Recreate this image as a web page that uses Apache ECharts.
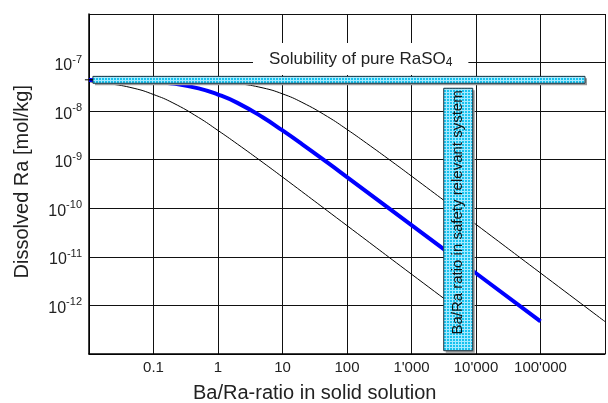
<!DOCTYPE html>
<html lang="en">
<head>
    <meta charset="UTF-8">
    <title>Dissolved Ra vs Ba/Ra ratio</title>
    <script src="https://cdn.jsdelivr.net/npm/echarts@6/dist/echarts.min.js"></script>
    <style>
        html, body { margin: 0; padding: 0; background: #fff; }
        #main { width: 608px; height: 403px; }
    </style>
</head>
<body>
    <div id="main"></div>

    <script>
        // curve data (Ba/Ra ratio -> dissolved Ra in mol/kg)
        const ratioLow = [0.01, 0.02, 0.05, 0.1, 0.2, 0.5, 1, 2, 5, 10, 100, 1000, 9300];
        const raLow = [4.03e-8, 3.69e-8, 2.95e-8, 2.2e-8, 1.48e-8, 7.4e-9, 4.0e-9, 2.1e-9, 8.7e-10, 4.4e-10, 4.4e-11, 4.4e-12, 4.8e-13];

        const ratioMid = [0.01, 0.1, 0.2, 0.5, 1, 2, 5, 10, 20, 50, 100, 1000, 10000, 100000];
        const raMid = [4.39e-8, 4.03e-8, 3.69e-8, 2.95e-8, 2.2e-8, 1.48e-8, 7.4e-9, 4.0e-9, 2.1e-9, 8.7e-10, 4.4e-10, 4.5e-11, 4.6e-12, 4.7e-13];

        const ratioHigh = [0.01, 1, 2, 5, 10, 20, 50, 100, 200, 500, 1000, 10000, 100000, 1000000];
        const raHigh = [4.43e-8, 4.05e-8, 3.72e-8, 3.0e-8, 2.27e-8, 1.52e-8, 7.7e-9, 4.2e-9, 2.2e-9, 9.1e-10, 4.6e-10, 4.65e-11, 4.65e-12, 4.65e-13];

        // bands: [ratio from, ratio to, Ra low, Ra high]
        const solubilityBand = [0.0115, 4.9e5, 3.75e-8, 5.2e-8];
        const safetyBand = [3160, 8900, 1.17e-13, 2.96e-8];
        const bandLabels = ['', 'Ba/Ra ratio in safety relevant system'];

        // small cyan hatch tile
        function makeHatch() {
            let c = document.createElement('canvas');
            c.width = 3; c.height = 3;
            let g = c.getContext('2d');
            g.fillStyle = '#17c2ee';
            g.fillRect(0, 0, 3, 3);
            g.fillStyle = '#a6eaff';
            g.fillRect(0, 2, 3, 1);
            g.fillRect(2, 0, 1, 3);
            return c;
        }
        const hatch = makeHatch();

        let mychart = echarts.init(document.getElementById('main'));

        function pair(xs, ys) {
            let out = [];
            for (let i = 0; i < xs.length; i++) out.push([xs[i], ys[i]]);
            return out;
        }

        function fmtRatio(v) {
            v = Number(v.toPrecision(6));
            if (v < 0.05 || v > 5e5) return '';
            if (v >= 1000) return String(Math.round(v)).replace(/\B(?=(\d{3})+(?!\d))/g, "'");
            return String(v);
        }

        function fmtRa(v) {
            let e = Math.round(Math.log10(v));
            if (e >= -6 || e <= -13) return '';
            return '{b|10}{s|' + e + '}';
        }

        function renderBand(params, api) {
            let p0 = api.coord([api.value(0), api.value(3)]);
            let p1 = api.coord([api.value(1), api.value(2)]);
            let x = p0[0], y = p0[1], w = p1[0] - p0[0], h = p1[1] - p0[1];
            let kids = [
                { type: 'rect', shape: { x: x + 2, y: y + 2, width: w, height: h }, style: { fill: '#9a9a9a' } },
                { type: 'rect', shape: { x: x, y: y, width: w, height: h },
                  style: { fill: { image: hatch, repeat: 'repeat' }, stroke: '#1b3440', lineWidth: 1 } }
            ];
            if (params.dataIndex === 0) {
                kids.push({ type: 'line', shape: { x1: x - 8, y1: y + h / 2, x2: x, y2: y + h / 2 },
                            style: { stroke: '#000', lineWidth: 1 } });
            }
            let txt = bandLabels[params.dataIndex];
            if (txt) {
                kids.push({
                    type: 'text', x: x + w / 2, y: y + h / 2 - 7, rotation: Math.PI / 2,
                    style: { text: txt, fill: '#111', fontSize: 15, fontFamily: 'Liberation Sans, Arial',
                             align: 'center', verticalAlign: 'middle' }
                });
            }
            return { type: 'group', children: kids };
        }

        let options = {
            animation: false,
            backgroundColor: '#fff',
            grid: { left: 89, top: 14, right: -2, bottom: 49 },
            xAxis: {
                type: 'log', logBase: 10, min: 0.01, max: 1e6, interval: 1,
                axisLine: { lineStyle: { color: '#000', width: 1.5 } },
                axisTick: { show: false },
                axisLabel: { formatter: fmtRatio, color: '#222', fontSize: 15, margin: 6,
                             fontFamily: 'Liberation Sans, Arial' },
                splitLine: { show: true, lineStyle: { color: '#111', width: 1 } }
            },
            yAxis: {
                type: 'log', logBase: 10, min: 1e-13, max: 1e-6, interval: 1,
                axisLine: { show: true, lineStyle: { color: '#000', width: 1.5 } },
                axisTick: { show: false },
                axisLabel: {
                    formatter: fmtRa, margin: 7, color: '#222',
                    rich: {
                        b: { fontSize: 16, fontFamily: 'Liberation Sans, Arial', color: '#222', padding: [6, 0, 0, 0] },
                        s: { fontSize: 11, fontFamily: 'Liberation Sans, Arial', color: '#222', padding: [0, 0, 6, 0] }
                    }
                },
                splitLine: { show: true, lineStyle: { color: '#111', width: 1 } }
            },
            graphic: [
                {
                    type: 'text', left: 12, top: 85, z: 50,
                    rotation: Math.PI / 2,
                    style: { text: 'Dissolved Ra [mol/kg]', fill: '#222', fontSize: 20, fontFamily: 'Liberation Sans, Arial' }
                },
                {
                    type: 'text', left: 193, top: 383, z: 50,
                    style: { text: 'Ba/Ra-ratio in solid solution', fill: '#222', fontSize: 20, fontFamily: 'Liberation Sans, Arial' }
                },
                {
                    type: 'text', left: 253, top: 43, z: 50,
                    style: {
                        text: '{a|Solubility of pure RaSO}{s|4}',
                        backgroundColor: '#fff', padding: [6, 16, 6, 16],
                        rich: {
                            a: { fontSize: 17, fontFamily: 'Liberation Sans, Arial', fill: '#222' },
                            s: { fontSize: 12, fontFamily: 'Liberation Sans, Arial', fill: '#222', padding: [8, 0, 0, 0] }
                        }
                    }
                }
            ],
            series: [
                { name: 'low', type: 'line', data: pair(ratioLow, raLow), smooth: true, symbol: 'none', z: 3,
                  lineStyle: { color: '#000', width: 1 } },
                { name: 'mid', type: 'line', data: pair(ratioMid, raMid), smooth: true, symbol: 'none', z: 3,
                  lineStyle: { color: '#0000ff', width: 4 } },
                { name: 'high', type: 'line', data: pair(ratioHigh, raHigh), smooth: true, symbol: 'none', z: 3,
                  lineStyle: { color: '#000', width: 1 } },
                { name: 'bands', type: 'custom', renderItem: renderBand, z: 10, clip: false,
                  encode: { x: [0, 1], y: [2, 3] },
                  data: [solubilityBand, safetyBand] }
            ]
        };

        mychart.setOption(options);
    </script>
</body>
</html>
